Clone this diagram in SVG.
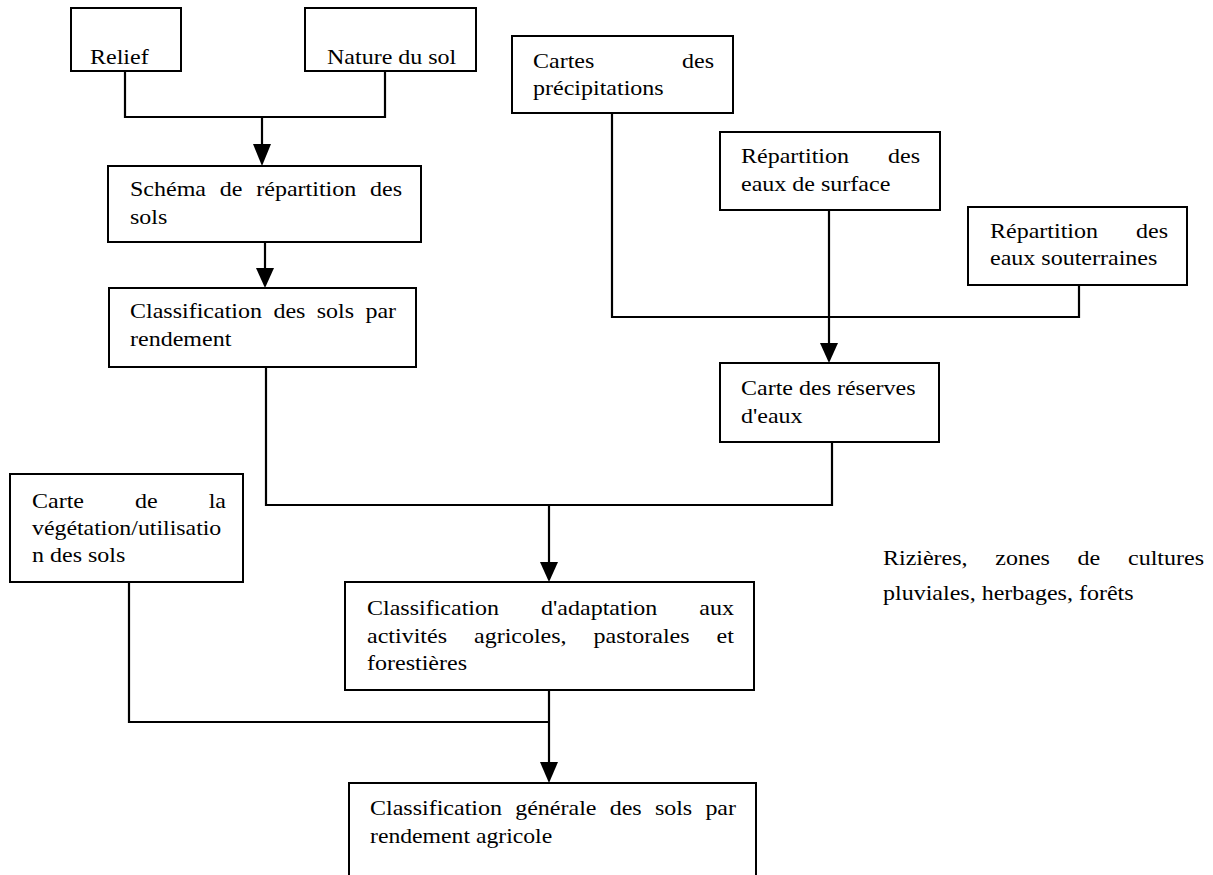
<svg xmlns="http://www.w3.org/2000/svg" width="1213" height="875" viewBox="0 0 1213 875">
<defs>
<style>
.box{fill:#fff;stroke:#000;stroke-width:2}
.t{font-family:"Liberation Serif","Times New Roman",serif;font-size:21px;fill:#000}
.c{fill:none;stroke:#000;stroke-width:2.2}
.ah{fill:#000;stroke:none}
</style>
</defs>
<rect width="1213" height="875" fill="#fff"/>
<g id="connectors">
<polyline class="c" points="125,71 125,117 385,117 385,71"/>
<line class="c" x1="262" y1="117" x2="262" y2="146"/>
<polygon class="ah" points="253,144 271,144 262,166"/>
<line class="c" x1="265" y1="242" x2="265" y2="270"/>
<polygon class="ah" points="256,268 274,268 265,288"/>
<polyline class="c" points="612,113 612,317 1079,317 1079,285"/>
<line class="c" x1="829" y1="210" x2="829" y2="345"/>
<polygon class="ah" points="820,343 838,343 829,363"/>
<polyline class="c" points="266,367 266,505 832,505 832,442"/>
<line class="c" x1="549" y1="505" x2="549" y2="564"/>
<polygon class="ah" points="540,562 558,562 549,582"/>
<polyline class="c" points="129,582 129,722 549,722"/>
<line class="c" x1="549" y1="690" x2="549" y2="764"/>
<polygon class="ah" points="540,762 558,762 549,783"/>
</g>
<g id="relief"><rect class="box" x="71" y="8" width="110" height="63"/>
<text class="t" x="90" y="64" textLength="58.7" lengthAdjust="spacingAndGlyphs">Relief</text></g>
<g id="nature"><rect class="box" x="305" y="8" width="171" height="63"/>
<text class="t" x="327" y="64" textLength="129.3" lengthAdjust="spacingAndGlyphs">Nature du sol</text></g>
<g id="schema"><rect class="box" x="108" y="166" width="313" height="76"/>
<text class="t" x="130" y="196" textLength="76" lengthAdjust="spacingAndGlyphs">Schéma</text>
<text class="t" x="219.8" y="196" textLength="22.7" lengthAdjust="spacingAndGlyphs">de</text>
<text class="t" x="256.3" y="196" textLength="100" lengthAdjust="spacingAndGlyphs">répartition</text>
<text class="t" x="370.1" y="196" textLength="32" lengthAdjust="spacingAndGlyphs">des</text>
<text class="t" x="130" y="224" textLength="37.3" lengthAdjust="spacingAndGlyphs">sols</text></g>
<g id="classif"><rect class="box" x="109" y="288" width="307" height="79"/>
<text class="t" x="130" y="318" textLength="132" lengthAdjust="spacingAndGlyphs">Classification</text>
<text class="t" x="273.4" y="318" textLength="32" lengthAdjust="spacingAndGlyphs">des</text>
<text class="t" x="316.8" y="318" textLength="37.3" lengthAdjust="spacingAndGlyphs">sols</text>
<text class="t" x="365.5" y="318" textLength="30.6" lengthAdjust="spacingAndGlyphs">par</text>
<text class="t" x="130" y="346" textLength="101.3" lengthAdjust="spacingAndGlyphs">rendement</text></g>
<g id="precip"><rect class="box" x="512" y="36" width="221" height="77"/>
<text class="t" x="533" y="68" textLength="61.3" lengthAdjust="spacingAndGlyphs">Cartes</text>
<text class="t" x="682" y="68" textLength="32" lengthAdjust="spacingAndGlyphs">des</text>
<text class="t" x="533" y="95" textLength="130.7" lengthAdjust="spacingAndGlyphs">précipitations</text></g>
<g id="surface"><rect class="box" x="720" y="132" width="220" height="78"/>
<text class="t" x="741" y="163" textLength="108" lengthAdjust="spacingAndGlyphs">Répartition</text>
<text class="t" x="888" y="163" textLength="32" lengthAdjust="spacingAndGlyphs">des</text>
<text class="t" x="741" y="191" textLength="149.3" lengthAdjust="spacingAndGlyphs">eaux de surface</text></g>
<g id="souterraines"><rect class="box" x="968" y="207" width="219" height="78"/>
<text class="t" x="990" y="238" textLength="108" lengthAdjust="spacingAndGlyphs">Répartition</text>
<text class="t" x="1136" y="238" textLength="32" lengthAdjust="spacingAndGlyphs">des</text>
<text class="t" x="990" y="265" textLength="167.3" lengthAdjust="spacingAndGlyphs">eaux souterraines</text></g>
<g id="reserves"><rect class="box" x="720" y="363" width="219" height="79"/>
<text class="t" x="741" y="395" textLength="174.6" lengthAdjust="spacingAndGlyphs">Carte des réserves</text>
<text class="t" x="741" y="423" textLength="61.6" lengthAdjust="spacingAndGlyphs">d'eaux</text></g>
<g id="vegetation"><rect class="box" x="10" y="474" width="233" height="108"/>
<text class="t" x="32" y="508" textLength="52" lengthAdjust="spacingAndGlyphs">Carte</text>
<text class="t" x="135" y="508" textLength="22.7" lengthAdjust="spacingAndGlyphs">de</text>
<text class="t" x="208.7" y="508" textLength="17.3" lengthAdjust="spacingAndGlyphs">la</text>
<text class="t" x="32" y="535" textLength="189.3" lengthAdjust="spacingAndGlyphs">végétation/utilisatio</text>
<text class="t" x="32" y="562" textLength="93.3" lengthAdjust="spacingAndGlyphs">n des sols</text></g>
<g id="adaptation"><rect class="box" x="345" y="582" width="409" height="108"/>
<text class="t" x="367" y="615" textLength="132" lengthAdjust="spacingAndGlyphs">Classification</text>
<text class="t" x="541" y="615" textLength="116.3" lengthAdjust="spacingAndGlyphs">d'adaptation</text>
<text class="t" x="699.3" y="615" textLength="34.7" lengthAdjust="spacingAndGlyphs">aux</text>
<text class="t" x="367" y="643" textLength="80" lengthAdjust="spacingAndGlyphs">activités</text>
<text class="t" x="474" y="643" textLength="92.6" lengthAdjust="spacingAndGlyphs">agricoles,</text>
<text class="t" x="593.6" y="643" textLength="96" lengthAdjust="spacingAndGlyphs">pastorales</text>
<text class="t" x="716.6" y="643" textLength="17.3" lengthAdjust="spacingAndGlyphs">et</text>
<text class="t" x="367" y="670" textLength="100" lengthAdjust="spacingAndGlyphs">forestières</text></g>
<g id="generale"><rect class="box" x="349" y="783" width="407" height="120"/>
<text class="t" x="370" y="815" textLength="132" lengthAdjust="spacingAndGlyphs">Classification</text>
<text class="t" x="515.2" y="815" textLength="81.3" lengthAdjust="spacingAndGlyphs">générale</text>
<text class="t" x="609.7" y="815" textLength="32" lengthAdjust="spacingAndGlyphs">des</text>
<text class="t" x="654.9" y="815" textLength="37.3" lengthAdjust="spacingAndGlyphs">sols</text>
<text class="t" x="705.4" y="815" textLength="30.6" lengthAdjust="spacingAndGlyphs">par</text>
<text class="t" x="370" y="843" textLength="182.2" lengthAdjust="spacingAndGlyphs">rendement agricole</text></g>
<g id="note">
<text class="t" x="883" y="565" textLength="84.6" lengthAdjust="spacingAndGlyphs">Rizières,</text>
<text class="t" x="995.3" y="565" textLength="54.6" lengthAdjust="spacingAndGlyphs">zones</text>
<text class="t" x="1077.6" y="565" textLength="22.7" lengthAdjust="spacingAndGlyphs">de</text>
<text class="t" x="1128" y="565" textLength="76" lengthAdjust="spacingAndGlyphs">cultures</text>
<text class="t" x="883" y="600" textLength="250.6" lengthAdjust="spacingAndGlyphs">pluviales, herbages, forêts</text>
</g>
</svg>
